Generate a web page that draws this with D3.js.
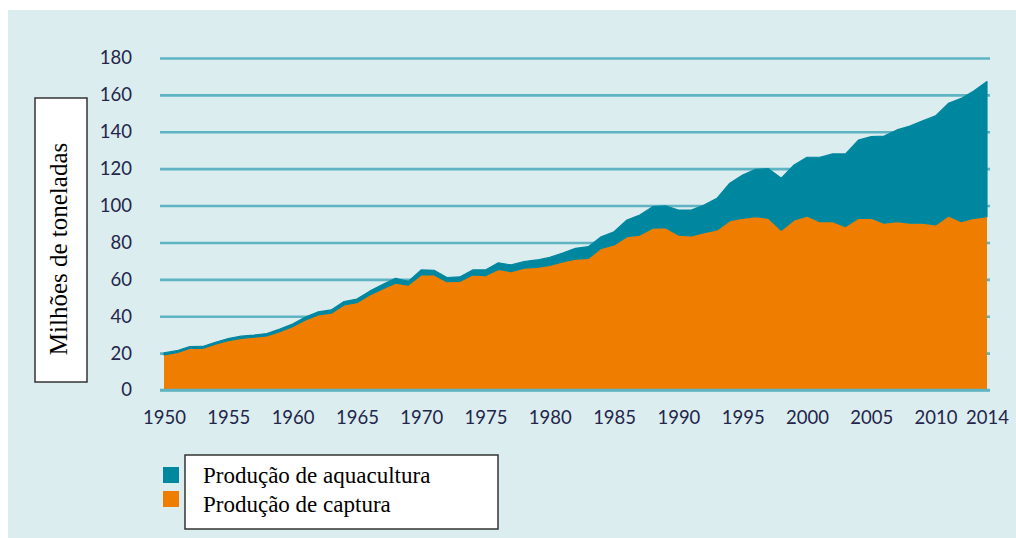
<!DOCTYPE html>
<html>
<head>
<meta charset="utf-8">
<script src="https://cdn.jsdelivr.net/npm/d3@7"></script>
<style>
  body { margin: 0; background: #ffffff; }
  .tick-label { font-family: Lato, "DejaVu Sans", sans-serif; font-size: 18.5px; fill: #23254a; }
  .serif { font-family: "Liberation Serif", "DejaVu Serif", serif; fill: #000; }
</style>
</head>
<body>
<div class="graph-pane"></div>
<script>
// years 1950 - 2014
var years = d3.range(1950, 2015);

// capture production, million tonnes
var capture = [
  19.0, 20.3, 22.6, 22.6, 24.9, 26.8, 28.0, 28.6, 29.3, 31.6,
  34.3, 38.0, 40.7, 41.6, 46.1, 47.3, 51.5, 54.8, 57.9, 56.9,
  62.4, 62.4, 58.7, 58.9, 62.4, 62.0, 65.4, 64.2, 66.0, 66.5,
  67.5, 69.4, 71.0, 71.4, 76.8, 78.6, 83.1, 84.0, 87.7, 88.0,
  84.0, 83.5, 85.3, 86.8, 91.8, 93.1, 94.0, 93.1, 86.6, 92.2,
  94.3, 91.3, 91.3, 88.6, 93.1, 93.1, 90.4, 91.3, 90.4, 90.4,
  89.5, 94.3, 91.3, 93.1, 94.0
];

// aquaculture production, million tonnes
var aquaculture = [
  1.2, 1.0, 0.9, 1.0, 1.0, 1.1, 1.2, 1.2, 1.3, 1.4,
  1.5, 1.6, 1.7, 1.8, 1.9, 2.0, 2.1, 2.4, 2.6, 2.0,
  2.7, 2.5, 2.3, 2.4, 2.7, 3.1, 3.6, 3.6, 3.6, 4.0,
  4.4, 4.8, 5.8, 6.3, 6.3, 7.2, 9.1, 10.9, 11.7, 11.8,
  13.6, 14.1, 15.0, 17.1, 20.3, 23.5, 25.6, 26.9, 28.2, 29.8,
  31.9, 34.9, 36.7, 39.4, 42.4, 44.3, 47.3, 49.7, 52.7, 55.6,
  59.1, 61.1, 66.8, 69.2, 73.2
];

var xTicks = [1950, 1955, 1960, 1965, 1970, 1975, 1980, 1985, 1990, 1995, 2000, 2005, 2010, 2014];
var yTicks = [0, 20, 40, 60, 80, 100, 120, 140, 160, 180];

var seriesNames = ["Produção de aquacultura", "Produção de captura"];
var colors = { captura: "#ef7d00", aquacultura: "#0087a0" };

var width = 1016, height = 538;

var rows = years.map(function(y, i) {
  return { year: y, captura: capture[i], aquacultura: aquaculture[i] };
});

var svg = d3.select(".graph-pane")
  .append("svg")
  .attr("width", width)
  .attr("height", height);

// light blue panel
svg.append("rect")
  .attr("x", 8).attr("y", 10)
  .attr("width", width - 8).attr("height", height - 10)
  .attr("fill", "#dbedef");

var xScale = d3.scaleLinear().domain([1950, 2014]).range([164, 987]);
var yScale = d3.scaleLinear().domain([0, 180]).range([390, 58]);

// gridlines + y labels
var yAxis = d3.axisLeft(yScale)
  .tickValues(yTicks)
  .tickSize(-(990 - 160))
  .tickPadding(28);

var gy = svg.append("g")
  .attr("transform", "translate(160,0)")
  .call(yAxis);
gy.select(".domain").remove();
gy.selectAll(".tick line")
  .attr("stroke", "#5eb4c2")
  .attr("stroke-width", 2.6);
gy.selectAll(".tick text")
  .attr("class", "tick-label")
  .attr("fill", null)
  .attr("font-size", null)
  .attr("font-family", null);

// stacked areas
var stack = d3.stack().keys(["captura", "aquacultura"]);
var layers = stack(rows);

var area = d3.area()
  .x(function(d) { return xScale(d.data.year); })
  .y0(function(d) { return yScale(d[0]); })
  .y1(function(d) { return yScale(d[1]); });

svg.append("g")
  .selectAll("path")
  .data(layers)
  .join("path")
  .attr("d", area)
  .attr("fill", function(d) { return colors[d.key]; })
  .attr("stroke", function(d) { return d.key === "aquacultura" ? colors[d.key] : "none"; })
  .attr("stroke-width", function(d) { return d.key === "aquacultura" ? 1.2 : 0; })
  .attr("stroke-linejoin", "round");

// baseline drawn over the areas
svg.append("line")
  .attr("x1", 160).attr("x2", 990)
  .attr("y1", yScale(0)).attr("y2", yScale(0))
  .attr("stroke", "#5eb4c2")
  .attr("stroke-width", 2.6);

// x axis labels
var xAxis = d3.axisBottom(xScale)
  .tickValues(xTicks)
  .tickFormat(d3.format("d"))
  .tickSize(0);

var gx = svg.append("g")
  .attr("transform", "translate(0," + yScale(0) + ")")
  .call(xAxis);
gx.select(".domain").remove();
gx.selectAll(".tick text")
  .attr("class", "tick-label")
  .attr("fill", null)
  .attr("font-size", null)
  .attr("font-family", null)
  .attr("y", 34)
  .attr("dy", 0);

// y axis title box
svg.append("rect")
  .attr("x", 35).attr("y", 98)
  .attr("width", 52).attr("height", 284)
  .attr("fill", "#ffffff")
  .attr("stroke", "#333")
  .attr("stroke-width", 1.5);

svg.append("text")
  .attr("class", "serif")
  .attr("transform", "translate(67,249) rotate(-90)")
  .attr("text-anchor", "middle")
  .style("font-size", "25px")
  .text("Milhões de toneladas");

// legend
svg.append("rect")
  .attr("x", 185).attr("y", 455)
  .attr("width", 313).attr("height", 74)
  .attr("fill", "#ffffff")
  .attr("stroke", "#333")
  .attr("stroke-width", 1.5);

var legendColors = [colors.aquacultura, colors.captura];
var legend = svg.append("g");
seriesNames.forEach(function(name, i) {
  legend.append("rect")
    .attr("x", 163).attr("y", 467 + i * 24)
    .attr("width", 16).attr("height", 16)
    .attr("fill", legendColors[i]);
  legend.append("text")
    .attr("class", "serif")
    .attr("x", 203).attr("y", 483 + i * 29)
    .style("font-size", "23px")
    .text(name);
});
</script>
</body>
</html>
